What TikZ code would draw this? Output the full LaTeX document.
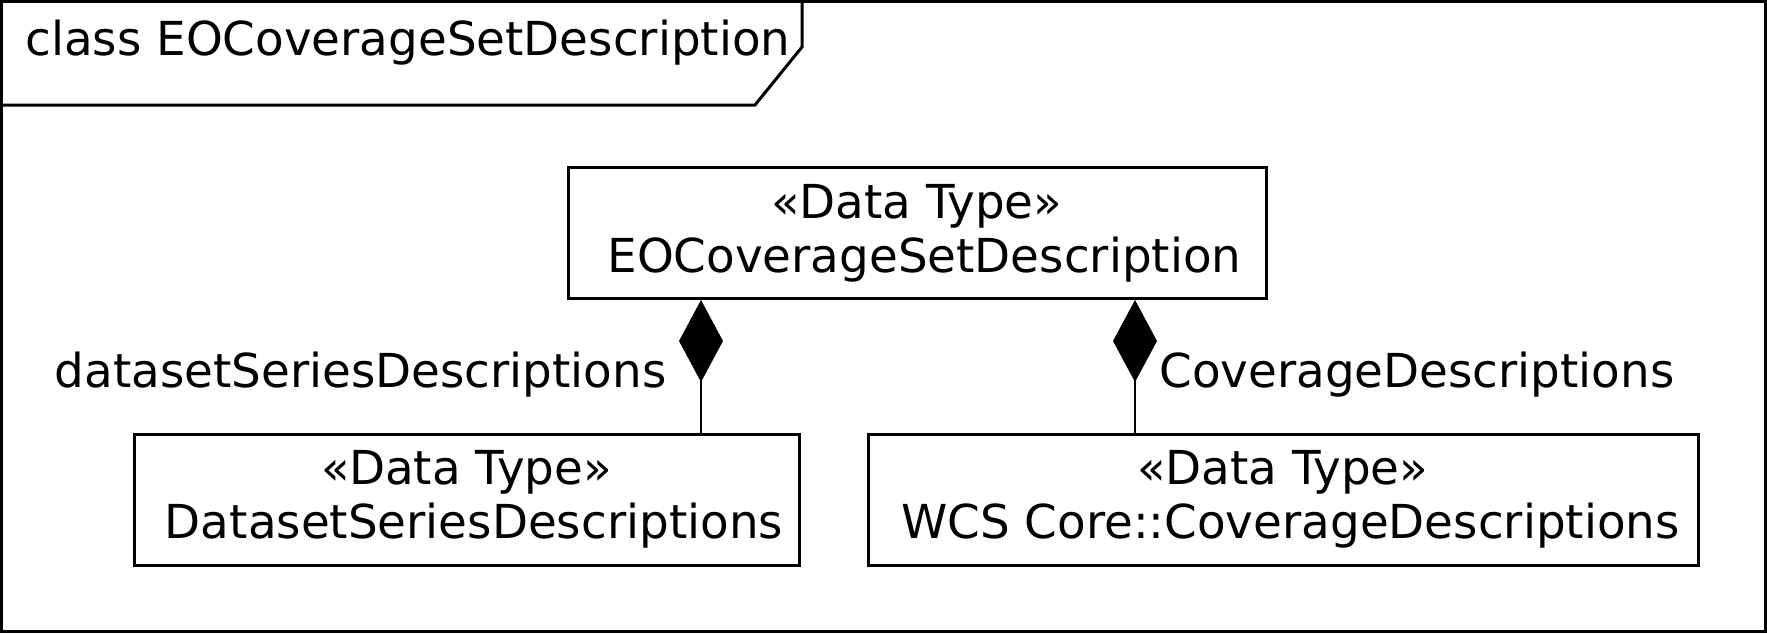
\documentclass[tikz,border=0pt]{standalone}
\usepackage{fontspec}
\setmainfont{DejaVu Sans}
\usetikzlibrary{arrows.meta, positioning, calc}

\begin{document}
\begin{tikzpicture}[x=0.5pt, y=-0.5pt,
  dtbox/.style={draw, line width=1.5pt, minimum height=65.5pt, align=center, inner sep=0pt, font=\fontsize{23.4}{27}\selectfont, execute at begin node=\rule{0pt}{26pt}},
  lbl/.style={inner sep=0pt, font=\fontsize{23.4}{28}\selectfont},
  comp/.style={line width=1.3pt, -{Diamond[length=41pt, width=22pt]}}
]
  \useasboundingbox (0,0) rectangle (1767,633);
  % frame with name tab
  \draw[line width=1.6pt] (1.6,1.6) rectangle (1765.4,631.4);
  \draw[line width=1.5pt] (0,105) -- (755,105) -- (802,47) -- (802,0);
  \node[lbl, anchor=west] (title) at (25,43) {class EOCoverageSetDescription};

  % data types
  \node[dtbox, minimum width=349pt] (eocsd) at (917,233) {«Data Type»\\ \hspace*{.32em}EOCoverageSetDescription};
  \node[dtbox, minimum width=332.5pt] (dssd) at (466.5,499.5) {«Data Type»\\ \hspace*{.32em}DatasetSeriesDescriptions};
  \node[dtbox, minimum width=415pt] (covd) at (1283,499.5) {«Data Type»\\ \hspace*{.32em}WCS Core::CoverageDescriptions};

  % compositions
  \coordinate (cleft) at (701,0);
  \coordinate (cright) at (1135,0);
  \draw[comp] (dssd.north -| cleft) -- (eocsd.south -| cleft);
  \draw[comp] (covd.north -| cright) -- (eocsd.south -| cright);
  \node[lbl, anchor=east] (dsslbl) at (667,375) {datasetSeriesDescriptions};
  \node[lbl, anchor=west] (covlbl) at (1159,375) {CoverageDescriptions};
\end{tikzpicture}
\end{document}
